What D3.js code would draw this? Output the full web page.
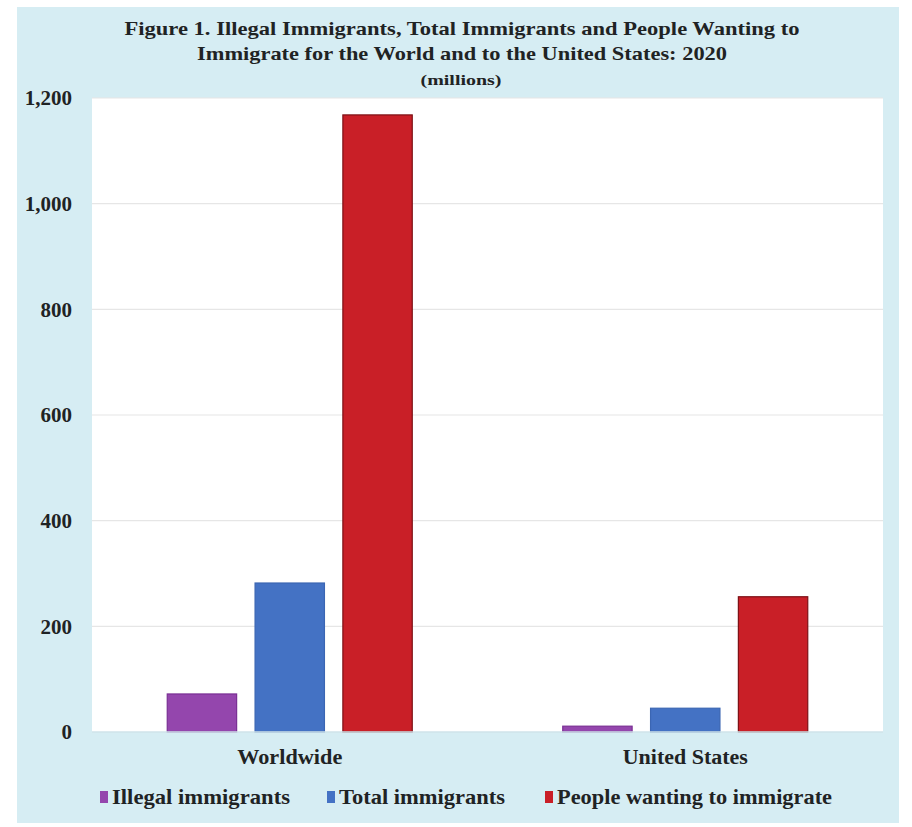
<!DOCTYPE html>
<html>
<head>
<meta charset="utf-8">
<script src="https://cdn.jsdelivr.net/npm/d3@7"></script>
<style>
  body { margin: 0; background: #fff; }
  svg { display: block; }
  text { font-family: "Liberation Serif", "Times New Roman", serif; font-weight: bold; fill: #1f2324; }
</style>
</head>
<body>
<svg></svg>
<script>
// data (millions)
let categories = ["Worldwide", "United States"];
let seriesNames = ["Illegal immigrants", "Total immigrants", "People wanting to immigrate"];
let illegal = [72, 11];
let total = [282, 45];
let wanting = [1168, 256];
let yTicks = [0, 200, 400, 600, 800, 1000, 1200];

let colors = ["#9446ad", "#4472c4", "#c91f27"];
let strokes = ["#7a2f94", "#3b66b3", "#7d1015"];

let width = 912;
let height = 827;
let plotLeft = 92, plotRight = 883, plotTop = 98, plotBottom = 732;

let svg = d3.select("svg").attr("width", width).attr("height", height);

// light blue frame
svg.append("rect")
   .attr("x", 17).attr("y", 7)
   .attr("width", 882).attr("height", 816)
   .attr("fill", "#d6edf3");

// plot area
svg.append("rect")
   .attr("x", plotLeft).attr("y", plotTop)
   .attr("width", plotRight - plotLeft).attr("height", plotBottom - plotTop)
   .attr("fill", "#ffffff");

let yScale = d3.scaleLinear().domain([0, 1200]).range([plotBottom, plotTop]);
let xScale = d3.scaleBand().domain(categories).range([plotLeft, plotRight]).paddingInner(0).paddingOuter(0);

// gridlines
svg.append("g")
   .selectAll("line")
   .data(yTicks.filter((d) => d > 0))
   .enter()
   .append("line")
   .attr("x1", plotLeft).attr("x2", plotRight)
   .attr("y1", (d) => yScale(d)).attr("y2", (d) => yScale(d))
   .attr("stroke", "#e6e6e6")
   .attr("stroke-width", 1.2);

// y axis labels
let yAxis = d3.axisLeft(yScale).tickValues(yTicks).tickSize(0).tickPadding(0)
              .tickFormat(d3.format(","));
let gy = svg.append("g")
   .attr("transform", "translate(72,0)")
   .call(yAxis);
gy.select(".domain").remove();
gy.selectAll("text")
  .attr("font-size", 21)
  .attr("font-family", "Liberation Serif")
  .attr("font-weight", "bold")
  .attr("fill", "#1f2324")
  .attr("text-anchor", "end");

// bars
let groupW = 245;
let inner = d3.scaleBand().domain(seriesNames).range([0, groupW]).paddingInner(0.21);
let seriesData = [illegal, total, wanting];

seriesNames.forEach((name, si) => {
  svg.append("g")
     .selectAll("rect")
     .data(categories.map((c, i) => ({ cat: c, value: seriesData[si][i] })))
     .enter()
     .append("rect")
     .attr("x", (d) => xScale(d.cat) + xScale.bandwidth() / 2 - groupW / 2 + inner(name))
     .attr("y", (d) => yScale(d.value))
     .attr("width", inner.bandwidth())
     .attr("height", (d) => yScale(0) - yScale(d.value))
     .attr("fill", colors[si])
     .attr("stroke", strokes[si])
     .attr("stroke-width", 1.2);
});

// zero line
svg.append("line")
   .attr("x1", plotLeft).attr("x2", plotRight)
   .attr("y1", plotBottom).attr("y2", plotBottom)
   .attr("stroke", "#cfe3ea").attr("stroke-width", 1.5);

// x axis labels
let xAxis = d3.axisBottom(xScale).tickSize(0).tickPadding(0);
let gx = svg.append("g")
   .attr("transform", "translate(0," + (plotBottom + 18) + ")")
   .call(xAxis);
gx.select(".domain").remove();
gx.selectAll("text")
  .attr("font-size", 20)
  .attr("font-family", "Liberation Serif")
  .attr("font-weight", "bold")
  .attr("fill", "#1f2324")
  .attr("textLength", (d) => d === "Worldwide" ? 105 : 125)
  .attr("lengthAdjust", "spacingAndGlyphs");

// title
let title = svg.append("g").attr("text-anchor", "middle");
title.append("text").attr("x", 462).attr("y", 35).attr("font-size", 19)
     .attr("textLength", 675).attr("lengthAdjust", "spacingAndGlyphs")
     .text("Figure 1. Illegal Immigrants, Total Immigrants and People Wanting to");
title.append("text").attr("x", 462).attr("y", 60).attr("font-size", 19)
     .attr("textLength", 530).attr("lengthAdjust", "spacingAndGlyphs")
     .text("Immigrate for the World and to the United States: 2020");
title.append("text").attr("x", 461).attr("y", 85).attr("font-size", 15)
     .attr("textLength", 81).attr("lengthAdjust", "spacingAndGlyphs")
     .text("(millions)");

// legend
let legendX = [100, 327, 545];
let legendW = [178, 166, 275];
let legend = svg.append("g");
seriesNames.forEach((name, i) => {
  legend.append("rect")
        .attr("x", legendX[i]).attr("y", 791)
        .attr("width", 8).attr("height", 12)
        .attr("fill", colors[i]);
  legend.append("text")
        .attr("x", legendX[i] + 12).attr("y", 804)
        .attr("font-size", 21)
        .attr("textLength", legendW[i]).attr("lengthAdjust", "spacingAndGlyphs")
        .text(name);
});
</script>
</body>
</html>
